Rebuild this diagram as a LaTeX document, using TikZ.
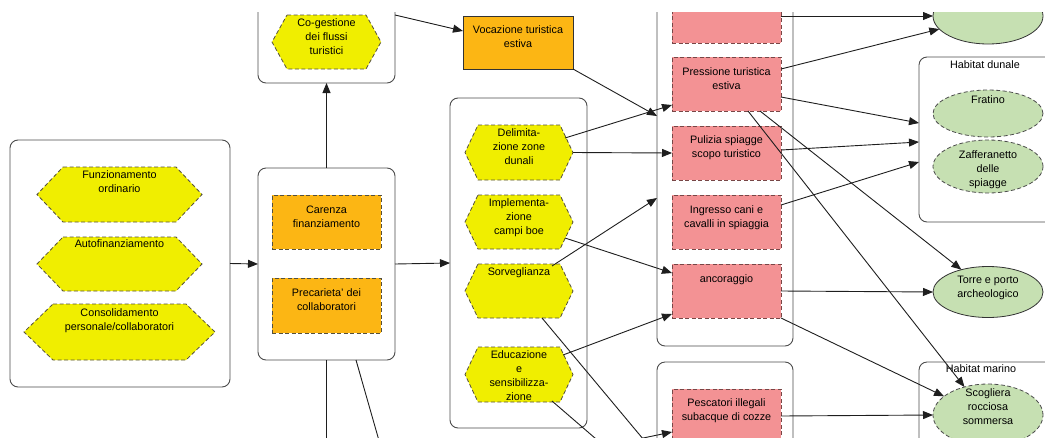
\documentclass[tikz,border=0pt]{standalone}
\usepackage{fontspec}
\setmainfont{Liberation Sans}
\usetikzlibrary{arrows.meta,calc,shapes.geometric}

\definecolor{hexyel}{RGB}{240,238,0}
\definecolor{orng}{RGB}{252,182,20}
\definecolor{pinkr}{RGB}{243,146,148}
\definecolor{grn}{RGB}{198,224,178}
\definecolor{dashc}{RGB}{85,80,60}
\definecolor{dashp}{RGB}{120,70,70}
\definecolor{lnc}{RGB}{30,30,30}

\tikzset{
  grp/.style={draw=black!70, line width=0.9pt, rounded corners=8pt, fill=white, inner sep=0pt, outer sep=0pt},
  hexs/.style={fill=hexyel, draw=dashc, dash pattern=on 4pt off 2.5pt, line width=0.8pt},
  orbox/.style={rectangle, fill=orng, draw=dashc, dash pattern=on 4pt off 2.5pt, line width=0.8pt, inner sep=0pt, outer sep=0pt},
  orsolid/.style={rectangle, fill=orng, draw=black!80, line width=0.8pt, inner sep=0pt, outer sep=0pt},
  pbox/.style={rectangle, fill=pinkr, draw=dashp, dash pattern=on 4pt off 2.5pt, line width=0.8pt, inner sep=0pt, outer sep=0pt},
  ell/.style={ellipse, fill=grn, draw=black!80, line width=0.8pt, inner sep=0pt, outer sep=0pt},
  dell/.style={ellipse, fill=grn, draw=black!70, dash pattern=on 4pt off 2.5pt, line width=0.8pt, inner sep=0pt, outer sep=0pt},
  txt/.style={font=\fontsize{10.8}{14}\selectfont, align=center, inner sep=0pt, anchor=north, text=black},
  arr/.style={draw=lnc, line width=0.9pt, -{Triangle[length=10pt,width=8pt]}},
  ln/.style={draw=lnc, line width=0.9pt},
}

% name, cx, cy, w, h, inset
\newcommand\hexnode[6]{%
  \node[inner sep=0pt, outer sep=0pt, minimum width=#4pt, minimum height=#5pt] (#1) at (#2,#3) {};
  \filldraw[hexs] ($(#1.north west)+(#6,0)$) -- ($(#1.north east)+(-#6,0)$) -- (#1.east)
     -- ($(#1.south east)+(-#6,0)$) -- ($(#1.south west)+(#6,0)$) -- (#1.west) -- cycle;
}

\begin{document}
\begin{tikzpicture}[x=1pt,y=-1pt]
\useasboundingbox (0,0) rectangle (1045,437);
\clip (0,12) rectangle (1045,437);

% group boxes
\node[grp, minimum width=220pt, minimum height=247pt] (g1) at (120,263.5) {};
\node[grp, minimum width=137pt, minimum height=113pt] (g0) at (326.5,26.5) {};
\node[grp, minimum width=137pt, minimum height=192pt] (g2) at (326.5,264) {};
\node[grp, minimum width=137pt, minimum height=330pt] (g3) at (518.5,263) {};
\node[grp, minimum width=136pt, minimum height=376pt] (g4) at (725,158) {};
\node[grp, minimum width=136pt, minimum height=118pt] (g5) at (725,421) {};
\node[grp, minimum width=136pt, minimum height=165pt] (hdun) at (987,139.5) {};
\node[grp, minimum width=136pt, minimum height=118pt] (hmar) at (987,421) {};
\node[txt] (thdun) at ($(hdun.north)+(-2,1.7)$) {\strut Habitat dunale};
\node[txt] (thmar) at ($(hmar.north)+(-6,0)$) {\strut Habitat marino};

% left group hexagons
\hexnode{fun}{119.5}{194.5}{165}{55}{26}
\hexnode{aut}{119.5}{264}{165}{54}{26}
\hexnode{con}{119.5}{332}{191}{56}{29}
\node[txt] (tfun) at ($(fun.north)+(0,1.7)$) {\strut Funzionamento\\ordinario};
\node[txt] (taut) at ($(aut.north)+(0,0)$) {\strut Autofinanziamento};
\node[txt] (tcon) at ($(con.north)+(0,2.5)$) {\strut Consolidamento\\personale/collaboratori};

% co-gestione
\hexnode{cog}{326.5}{42}{109}{54}{15}
\node[txt] (tcog) at ($(cog.north)+(0,1.7)$) {\strut Co-gestione\\dei flussi\\turistici};

% carenza group
\node[orbox, minimum width=109pt, minimum height=54pt] (car) at (326.5,222) {};
\node[orbox, minimum width=109pt, minimum height=55pt] (pre) at (326.5,305.5) {};
\node[txt] (tcar) at ($(car.north)+(0,8.2)$) {\strut Carenza\\finanziamento};
\node[txt] (tpre) at ($(pre.north)+(0,8.2)$) {\strut Precarieta' dei\\collaboratori};

% vocazione
\node[orsolid, minimum width=110pt, minimum height=53pt] (voc) at (518,42.5) {};
\node[txt] (tvoc) at ($(voc.north)+(0,7.7)$) {\strut Vocazione turistica\\estiva};

% actions group
\hexnode{del}{519}{152.5}{108}{55}{13}
\hexnode{imp}{519}{222}{108}{54}{13}
\hexnode{sor}{519}{291}{108}{54}{13}
\hexnode{edu}{519}{374.5}{108}{55}{13}
\node[txt] (tdel) at ($(del.north)+(0,1.7)$) {\strut Delimita-\\zione zone\\dunali};
\node[txt] (timp) at ($(imp.north)+(0,1.7)$) {\strut Implementa-\\zione\\campi boe};
\node[txt] (tsor) at ($(sor.north)+(0,1.7)$) {\strut Sorveglianza};
\node[txt] (tedu) at ($(edu.north)+(0,1.7)$) {\strut Educazione\\e\\sensibilizza-\\zione};

% pressures
\node[pbox, minimum width=109pt, minimum height=54pt] (rtop) at (726.5,16) {};
\node[pbox, minimum width=109pt, minimum height=54pt] (pres) at (726.5,84) {};
\node[pbox, minimum width=109pt, minimum height=54pt] (pul) at (726.5,153) {};
\node[pbox, minimum width=109pt, minimum height=54pt] (ing) at (726.5,222) {};
\node[pbox, minimum width=109pt, minimum height=54pt] (anc) at (726.5,291) {};
\node[pbox, minimum width=109pt, minimum height=54pt] (pesc) at (726.5,416) {};
\node[txt] (tpres) at ($(pres.north)+(0,8.2)$) {\strut Pressione turistica\\estiva};
\node[txt] (tpul) at ($(pul.north)+(0,7.7)$) {\strut Pulizia spiagge\\scopo turistico};
\node[txt] (ting) at ($(ing.north)+(0,8.2)$) {\strut Ingresso cani e\\cavalli in spiaggia};
\node[txt] (tanc) at ($(anc.north)+(0,8.2)$) {\strut ancoraggio};
\node[txt] (tpesc) at ($(pesc.north)+(0,7.7)$) {\strut Pescatori illegali\\subacque di cozze};

% targets
\node[ell, minimum width=110pt, minimum height=56pt] (e0) at (988,16) {};
\node[dell, minimum width=110pt, minimum height=47pt] (fra) at (988,113.5) {};
\node[dell, minimum width=110pt, minimum height=53pt] (zaf) at (988,166.5) {};
\node[ell, minimum width=110pt, minimum height=51pt] (tor) at (988,292) {};
\node[dell, minimum width=110pt, minimum height=62pt] (sco) at (988,415) {};
\node[txt] (tfra) at ($(fra.north)+(0,3.7)$) {\strut Fratino};
\node[txt] (tzaf) at ($(zaf.north)+(0,8.5)$) {\strut Zafferanetto\\delle\\spiagge};
\node[txt] (ttor) at ($(tor.north)+(0,7.2)$) {\strut Torre e porto\\archeologico};
\node[txt] (tsco) at ($(sco.north)+(0,2.7)$) {\strut Scogliera\\rocciosa\\sommersa};

% off-canvas ends
\coordinate (off1) at (326.5,470);
\coordinate (off2) at (387.4,470);
\coordinate (off3) at (669,470);
\coordinate (off4) at (632,470);
\coordinate (off5) at (489,470);

% connectors
\draw[arr] (g1.east) -- (g2.west);
\draw[arr] (g2.north) -- (g0.south);
\draw[arr] ($(g0.east)+(0,-11.5)$) -- ($(voc.west)+(0,-11.5)$);
\draw[arr] (voc.south east) -- ($(g4.west)+(0,-42)$);
\draw[arr] (g2.east) -- (g3.west);
\draw[ln] (g2.south) -- (off1);
\draw[ln] ($(g2.south)+(29.5,0)$) -- (off2);
\draw[arr] ($(del.east)+(-8,-14.5)$) -- ($(pres.west)+(0,21)$);
\draw[arr] (del.east) -- (pul.west);
\draw[arr] ($(sor.north east)+(-21,2)$) -- ($(g4.west)+(0,40)$);
\draw[arr] ($(imp.east)+(-8,16)$) -- ($(anc.west)+(0,-18)$);
\draw[arr] ($(edu.east)+(-10,-19.5)$) -- ($(anc.west)+(0,23)$);
\draw[ln] ($(sor.south)+(23,0)$) -- (off3);
\draw[ln] ($(edu.south)+(33,-1)$) -- (off4);
\draw[arr] (off5) -- ($(pesc.west)+(0,16)$);
\draw[arr] (rtop.east) -- (e0.west);
\draw[arr] ($(pres.east)+(0,-15)$) -- (e0.195);
\draw[arr] ($(pres.east)+(0,13)$) -- ($(hdun.west)+(0,-16.5)$);
\draw[arr] ($(pul.east)+(0,-3)$) -- ($(hdun.west)+(0,2.5)$);
\draw[arr] ($(ing.east)+(0,-17)$) -- ($(hdun.west)+(0,22.5)$);
\draw[arr] ($(pres.south)+(33.5,0)$) -- (tor.140);
\draw[arr] ($(pres.south)+(21.5,0)$) -- (sco.130);
\draw[arr] (anc.east) -- (tor.west);
\draw[arr] (anc.south east) -- (sco.157);
\draw[arr] (pesc.east) -- (sco.west);
\end{tikzpicture}
\end{document}
